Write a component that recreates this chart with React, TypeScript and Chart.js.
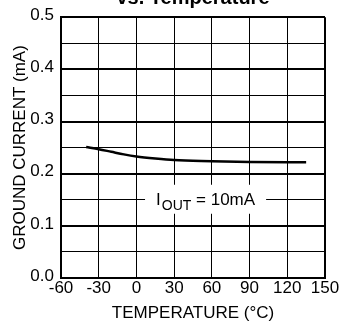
import React, { useEffect, useRef } from "react";
import { Chart, registerables } from "chart.js";

Chart.register(...registerables);

const temperatures = [-40, -30, -20, -10, 0, 15, 30, 60, 90, 120, 135];
const groundCurrent = [0.251, 0.247, 0.242, 0.237, 0.233, 0.229, 0.226, 0.224, 0.2225, 0.222, 0.222];
const xTickMin = -60;
const xTickMax = 150;
const yTickMin = 0;
const yTickMax = 0.5;
const chartTitle = "vs. Temperature";
const xTitle = "TEMPERATURE (°C)";
const yTitle = "GROUND CURRENT (mA)";
const labelMain = "I";
const labelSub = "OUT";
const labelRest = " = 10mA";
const labelAt = { x: 55, y: 0.15 };

const FONT = "'Liberation Sans', Arial, sans-serif";

const overlayPlugin = {
  id: "overlay",
  afterDraw(chart: any) {
    const ctx = chart.ctx;
    const xs = chart.scales.x;
    const ys = chart.scales.y;
    ctx.save();
    // partial title at top
    ctx.fillStyle = "#000";
    ctx.font = `bold 20px ${FONT}`;
    ctx.textAlign = "center";
    ctx.textBaseline = "alphabetic";
    ctx.fillText(chartTitle, (chart.chartArea.left + chart.chartArea.right) / 2, 4);

    // label
    const cx = xs.getPixelForValue(labelAt.x);
    const cy = ys.getPixelForValue(labelAt.y);
    ctx.textAlign = "left";
    ctx.font = `17px ${FONT}`;
    const wMain = ctx.measureText(labelMain).width;
    ctx.font = `14px ${FONT}`;
    const wSub = ctx.measureText(labelSub).width;
    ctx.font = `17px ${FONT}`;
    const wRest = ctx.measureText(labelRest).width;
    const total = wMain + wSub + wRest + 1;
    ctx.fillStyle = "#fff";
    ctx.fillRect(cx - total / 2 - 11, cy - 15, total + 22, 29);
    ctx.fillStyle = "#000";
    let x0 = cx - total / 2;
    const base = cy + 5;
    ctx.font = `17px ${FONT}`;
    ctx.fillText(labelMain, x0, base);
    x0 += wMain + 1;
    ctx.font = `14px ${FONT}`;
    ctx.fillText(labelSub, x0, base + 5);
    x0 += wSub;
    ctx.font = `17px ${FONT}`;
    ctx.fillText(labelRest, x0, base);
    ctx.restore();
  },
};

export default function App() {
  const ref = useRef<HTMLCanvasElement | null>(null);
  useEffect(() => {
    if (!ref.current) return;
    const chart = new Chart(ref.current, {
      type: "line",
      data: {
        datasets: [
          {
            data: temperatures.map((t, i) => ({ x: t, y: groundCurrent[i] })),
            borderColor: "#000",
            borderWidth: 2.5,
            pointRadius: 0,
            cubicInterpolationMode: "monotone",
            fill: false,
          },
        ],
      },
      options: {
        animation: false,
        responsive: true,
        maintainAspectRatio: false,
        layout: { padding: { left: 11, right: 16, top: 15, bottom: 0 } },
        plugins: {
          legend: { display: false },
          tooltip: { enabled: false },
          title: { display: false },
        },
        scales: {
          x: {
            type: "linear",
            min: xTickMin,
            max: xTickMax,
            afterFit: (s: any) => {
              s.height = 45;
            },
            ticks: {
              stepSize: 30,
              color: "#000",
              font: { family: FONT, size: 17, lineHeight: 1.1 },
              padding: 1,
              maxRotation: 0,
            },
            grid: {
              color: "#000",
              lineWidth: (c: any) => (c.tick && c.tick.value === xTickMax ? 2 : 1),
              drawTicks: false,
            },
            border: { color: "#000", width: 2 },
            title: {
              display: true,
              text: xTitle,
              color: "#000",
              font: { family: FONT, size: 17, lineHeight: 1.1 },
              padding: { top: 0, bottom: 0 },
            },
          },
          y: {
            type: "linear",
            min: yTickMin,
            max: yTickMax,
            afterFit: (s: any) => {
              s.width = 50;
            },
            ticks: {
              stepSize: 0.05,
              color: "#000",
              font: { family: FONT, size: 17 },
              padding: 7,
              labelOffset: -2,
              callback: (v: any) => {
                const n = Number(v) * 10;
                return Math.abs(n - Math.round(n)) < 1e-6 ? Number(v).toFixed(1) : "";
              },
            },
            grid: {
              color: "#000",
              lineWidth: (c: any) => {
                if (!c.tick) return 1;
                const n = c.tick.value * 10;
                return Math.abs(n - Math.round(n)) < 1e-6 ? 2 : 1;
              },
              drawTicks: false,
            },
            border: { color: "#000", width: 2 },
            title: {
              display: true,
              text: yTitle,
              color: "#000",
              font: { family: FONT, size: 17, lineHeight: 1.1 },
              padding: { top: 0, bottom: 0 },
            },
          },
        },
      },
      plugins: [overlayPlugin],
    } as any);
    return () => chart.destroy();
  }, []);
  return (
    <div style={{ position: "fixed", left: 0, top: 0, width: 341, height: 323 }}>
      <canvas ref={ref} />
    </div>
  );
}
